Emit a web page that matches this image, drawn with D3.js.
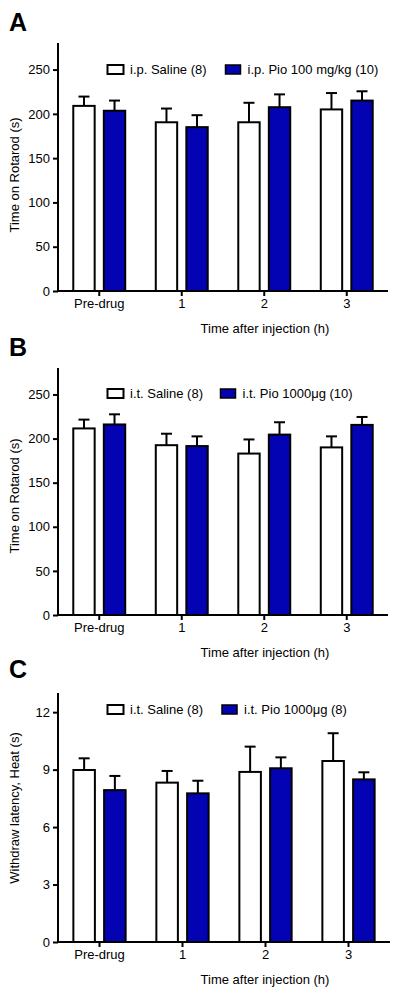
<!DOCTYPE html>
<html>
<head>
<meta charset="utf-8">
<script src="https://cdn.jsdelivr.net/npm/d3@7/dist/d3.min.js"></script>
<style>
  html, body { margin: 0; padding: 0; background: #fff; }
  svg { display: block; }
  text { font-family: "Liberation Sans", Arial, sans-serif; fill: #000; }
</style>
</head>
<body>
<svg id="chart" width="400" height="996"></svg>
<script>
// ---- Data ----
const categories = ["Pre-drug", "1", "2", "3"];
const seriesKeys = ["saline", "pio"];

const rotarodTicks = [0, 50, 100, 150, 200, 250];
const heatTicks = [0, 3, 6, 9, 12];

// Panel A: i.p.
const legendA = ["i.p. Saline (8)", "i.p. Pio 100 mg/kg (10)"];
const salineA = [209, 190.5, 190.5, 205];
const salineAErr = [10.5, 15.5, 22, 18.5];
const pioA = [203.5, 185, 207.5, 215];
const pioAErr = [11.5, 13.5, 14.5, 10.5];

// Panel B: i.t.
const legendB = ["i.t. Saline (8)", "i.t. Pio 1000\u03bcg (10)"];
const salineB = [211.5, 192.5, 183, 190];
const salineBErr = [10, 13, 16, 12.5];
const pioB = [216, 191.5, 204.5, 215.5];
const pioBErr = [11.5, 11, 14, 9];

// Panel C: heat withdrawal
const legendC = ["i.t. Saline (8)", "i.t. Pio 1000\u03bcg (8)"];
const salineC = [8.98, 8.32, 8.88, 9.45];
const salineCErr = [0.61, 0.61, 1.32, 1.45];
const pioC = [7.93, 7.76, 9.07, 8.49];
const pioCErr = [0.74, 0.66, 0.57, 0.37];

// ---- Drawing ----
const svg = d3.select("#chart");
const BLUE = "#0303b4";

function drawPanel(p) {
  const g = svg.append("g");
  const y = d3.scaleLinear().domain(p.yDomain).range([p.yBottom, p.yTop]);
  const x0 = d3.scaleBand().domain(categories).range([p.xLeft, p.xRight]).padding(0);
  const x1 = d3.scaleBand().domain(seriesKeys).range([0, x0.bandwidth()])
    .paddingInner(0.3).paddingOuter(0.5);

  const rows = categories.map((c, i) => ({
    cat: c,
    vals: [
      { key: "saline", v: p.saline[i], e: p.salineErr[i] },
      { key: "pio", v: p.pio[i], e: p.pioErr[i] }
    ]
  }));

  // bars and error bars
  const grp = g.selectAll(".grp").data(rows).join("g")
    .attr("transform", d => `translate(${x0(d.cat)},0)`);

  const bw = x1.bandwidth();
  const cap = 11;
  grp.selectAll("line.err").data(d => d.vals).join("line")
    .attr("class", "err")
    .attr("x1", d => x1(d.key) + bw / 2).attr("x2", d => x1(d.key) + bw / 2)
    .attr("y1", d => y(d.v)).attr("y2", d => y(d.v + d.e))
    .attr("stroke", "#000").attr("stroke-width", 2);
  grp.selectAll("line.cap").data(d => d.vals).join("line")
    .attr("class", "cap")
    .attr("x1", d => x1(d.key) + bw / 2 - cap / 2).attr("x2", d => x1(d.key) + bw / 2 + cap / 2)
    .attr("y1", d => y(d.v + d.e)).attr("y2", d => y(d.v + d.e))
    .attr("stroke", "#000").attr("stroke-width", 2);
  grp.selectAll("rect").data(d => d.vals).join("rect")
    .attr("x", d => x1(d.key)).attr("width", bw)
    .attr("y", d => y(d.v)).attr("height", d => y(0) - y(d.v))
    .attr("fill", d => d.key === "saline" ? "#fff" : BLUE)
    .attr("stroke", "#000").attr("stroke-width", 2);

  // y axis
  const yAxis = g.append("g")
    .attr("transform", `translate(${p.xLeft},0)`)
    .call(d3.axisLeft(y).tickValues(p.yTicks).tickSize(5).tickPadding(3).tickSizeOuter(0));
  yAxis.select(".domain").attr("stroke-width", 2).attr("d", `M0,${y(0)}V${p.yTop}`);
  yAxis.selectAll(".tick line").attr("stroke-width", 2);
  yAxis.selectAll(".tick text").style("font-size", "13px").style("font-family", '"Liberation Sans", Arial, sans-serif');

  // x axis
  const xAxis = g.append("g")
    .attr("transform", `translate(0,${p.yBottom})`)
    .call(d3.axisBottom(x0).tickSize(5).tickPadding(3).tickSizeOuter(0));
  xAxis.select(".domain").attr("stroke-width", 2).attr("d", `M${p.xLeft},0H${p.xRight}`);
  xAxis.selectAll(".tick line").attr("stroke-width", 2);
  xAxis.selectAll(".tick text").style("font-size", "13px").style("font-family", '"Liberation Sans", Arial, sans-serif');

  // x title
  g.append("text").attr("x", 265).attr("y", p.yBottom + 42)
    .attr("text-anchor", "middle").style("font-size", "13px")
    .text("Time after injection (h)");

  // y title
  g.append("text")
    .attr("transform", `translate(19,${p.yTitleY}) rotate(-90)`)
    .attr("text-anchor", "middle").style("font-size", "13px")
    .text(p.yTitle);

  // panel letter
  g.append("text").attr("x", 9).attr("y", p.letterY)
    .style("font-size", "25px").style("font-weight", "bold")
    .text(p.letter);

  // legend
  const ly = p.legendY;
  g.append("rect").attr("x", 107.5).attr("y", ly - 9).attr("width", 16).attr("height", 9)
    .attr("fill", "#fff").attr("stroke", "#000").attr("stroke-width", 2);
  g.append("text").attr("x", 130).attr("y", ly).style("font-size", "13px").text(p.legend[0]);
  g.append("rect").attr("x", p.legendX2).attr("y", ly - 9).attr("width", 15).attr("height", 9)
    .attr("fill", BLUE).attr("stroke", "#000").attr("stroke-width", 1.5);
  g.append("text").attr("x", p.legendX2 + 22).attr("y", ly).style("font-size", "13px").text(p.legend[1]);
}

drawPanel({
  letter: "A", letterY: 31,
  yDomain: [0, 280], yTicks: rotarodTicks, yTop: 43, yBottom: 291,
  xLeft: 58, xRight: 388,
  saline: salineA, salineErr: salineAErr, pio: pioA, pioErr: pioAErr,
  yTitle: "Time on Rotarod (s)", yTitleY: 175,
  legend: legendA, legendY: 74, legendX2: 225.5
});

drawPanel({
  letter: "B", letterY: 356,
  yDomain: [0, 280], yTicks: rotarodTicks, yTop: 368, yBottom: 615,
  xLeft: 58, xRight: 388,
  saline: salineB, salineErr: salineBErr, pio: pioB, pioErr: pioBErr,
  yTitle: "Time on Rotarod (s)", yTitleY: 496,
  legend: legendB, legendY: 398, legendX2: 220.5
});

drawPanel({
  letter: "C", letterY: 678,
  yDomain: [0, 13], yTicks: heatTicks, yTop: 693, yBottom: 942,
  xLeft: 58, xRight: 390,
  saline: salineC, salineErr: salineCErr, pio: pioC, pioErr: pioCErr,
  yTitle: "Withdraw latency, Heat (s)", yTitleY: 808,
  legend: legendC, legendY: 714, legendX2: 222
});
</script>
</body>
</html>
